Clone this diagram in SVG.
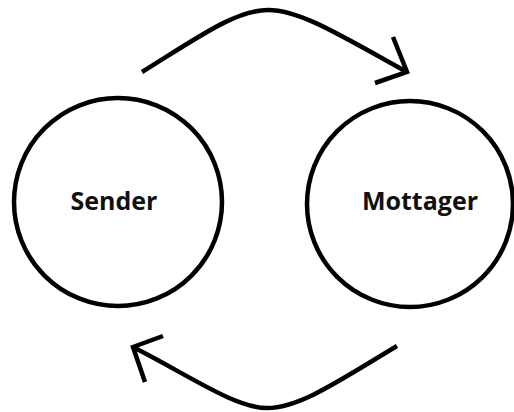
<svg xmlns="http://www.w3.org/2000/svg" width="514" height="412" viewBox="0 0 514 412">
  <style>
    .node circle { fill: none; stroke: #000; stroke-width: 4.5; }
    .node text { font-family: "Open Sans", "Liberation Sans", sans-serif; font-weight: bold; font-size: 25px; fill: #111; text-anchor: middle; }
    .link { fill: none; stroke: #000; stroke-width: 4.5; stroke-linecap: butt; stroke-linejoin: miter; }
  </style>
  <rect width="514" height="412" fill="#fff"/>
  <g id="sender" class="node">
    <circle cx="118" cy="202" r="104"/>
    <text x="114" y="210">Sender</text>
  </g>
  <g id="mottager" class="node">
    <circle cx="410" cy="204" r="103"/>
    <text x="420" y="210">Mottager</text>
  </g>
  <g id="connectors">
    <path class="link" d="M142,72 C200,36 236,10 268,10 C300,10 340,35 407,72"/>
    <polyline class="link" points="393,37 407,72 375,83"/>
    <path class="link" d="M397,346 C340,380 300,408 267,408 C235,408 190,376 133,347"/>
    <polyline class="link" points="163,336 133,347 145,382"/>
  </g>
</svg>
